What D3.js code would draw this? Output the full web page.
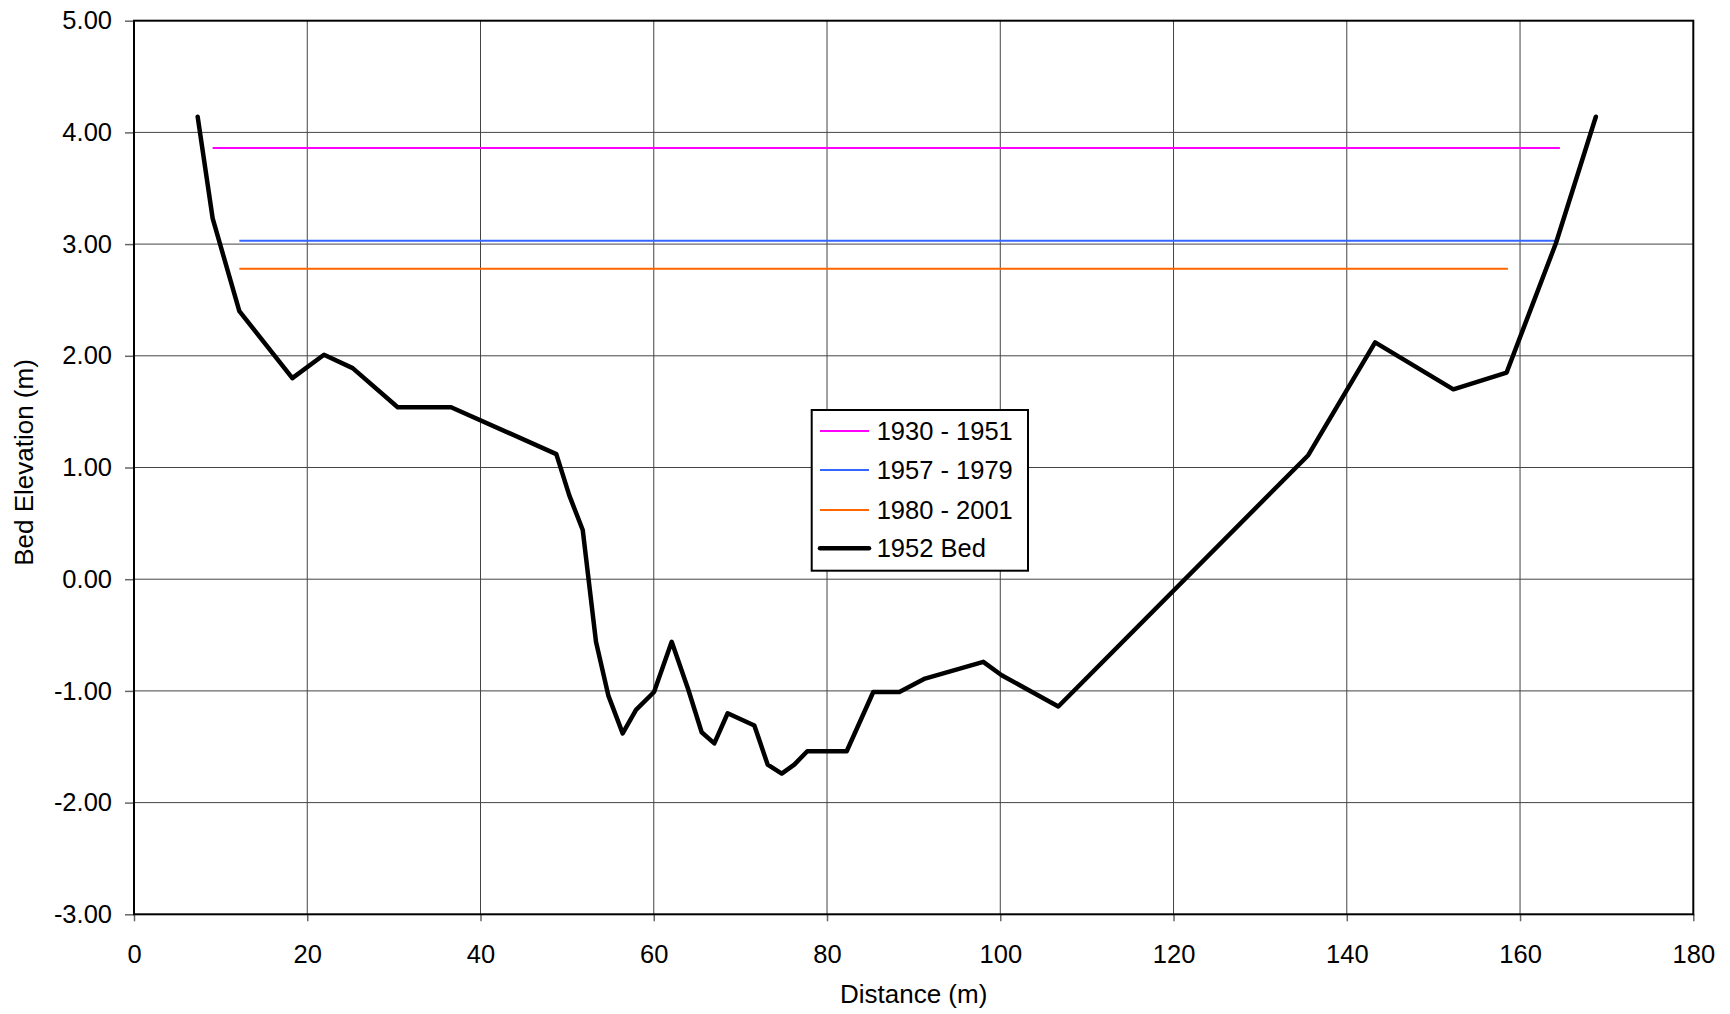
<!DOCTYPE html>
<html>
<head>
<meta charset="utf-8">
<script src="https://cdn.jsdelivr.net/npm/d3@7"></script>
<style>
  html, body { margin: 0; padding: 0; background: #fff; }
  svg { display: block; font-family: "Liberation Sans", Arial, sans-serif; }
</style>
</head>
<body>
<svg id="chart" width="1730" height="1014"></svg>
<script>
// ---- Data ----
const bedDistance = [7.35, 9.08, 12.16, 18.28, 21.93, 25.24, 30.44, 36.6, 48.75, 50.25, 51.8, 53.33, 54.75, 56.41, 57.95, 60.03, 62.07, 63.99, 65.53, 66.99, 68.53, 71.61, 73.15, 74.77, 76.22, 77.72, 82.27, 85.34, 88.35, 91.31, 98.04, 100.16, 106.7, 135.55, 143.27, 152.3, 158.45, 164.15, 168.75];
const bedElevation = [4.14, 3.23, 2.40, 1.80, 2.01, 1.89, 1.54, 1.54, 1.12, 0.75, 0.44, -0.56, -1.04, -1.38, -1.17, -1.01, -0.56, -0.99, -1.37, -1.47, -1.20, -1.31, -1.66, -1.74, -1.66, -1.54, -1.54, -1.01, -1.01, -0.89, -0.74, -0.86, -1.14, 1.11, 2.12, 1.70, 1.85, 3.01, 4.14];

const level1930Distance = [9.08, 164.6];
const level1930Elevation = [3.86, 3.86];
const level1957Distance = [12.16, 164.15];
const level1957Elevation = [3.03, 3.03];
const level1980Distance = [12.16, 158.6];
const level1980Elevation = [2.78, 2.78];

const seriesNames = ["1930 - 1951", "1957 - 1979", "1980 - 2001", "1952 Bed"];
const seriesColors = ["#ff00ff", "#3366ff", "#ff6600", "#000000"];

const xTicks = [0, 20, 40, 60, 80, 100, 120, 140, 160, 180];
const yTicks = [-3, -2, -1, 0, 1, 2, 3, 4, 5];
const xTitle = "Distance (m)";
const yTitle = "Bed Elevation (m)";

// ---- Layout ----
const W = 1730, H = 1014;
const margin = { left: 134, top: 20.7, right: 36.7, bottom: 99.7 };
const svg = d3.select("#chart");
const x = d3.scaleLinear().domain([0, 180]).range([margin.left, W - margin.right]);
const y = d3.scaleLinear().domain([-3, 5]).range([H - margin.bottom, margin.top]);

// Gridlines
const grid = svg.append("g");
grid.selectAll("line.v").data(xTicks.slice(1, -1)).join("line")
  .attr("x1", d => x(d)).attr("x2", d => x(d))
  .attr("y1", y(5)).attr("y2", y(-3))
  .attr("stroke", "#444").attr("stroke-width", 1);
grid.selectAll("line.h").data(yTicks.slice(1, -1)).join("line")
  .attr("x1", x(0)).attr("x2", x(180))
  .attr("y1", d => y(d)).attr("y2", d => y(d))
  .attr("stroke", "#444").attr("stroke-width", 1);

// Axes
const yAxis = svg.append("g").attr("transform", `translate(${x(0)},0)`)
  .call(d3.axisLeft(y).tickValues(yTicks).tickFormat(d => d.toFixed(2)).tickSize(9).tickPadding(13));
const xAxis = svg.append("g").attr("transform", `translate(0,${y(-3)})`)
  .call(d3.axisBottom(x).tickValues(xTicks).tickFormat(d => String(d)).tickSize(7).tickPadding(24));
[xAxis, yAxis].forEach(g => {
  g.select(".domain").remove();
  g.selectAll(".tick line").attr("stroke", "#666").attr("stroke-width", 1.5);
  g.selectAll(".tick text").attr("fill", "#000").style("font-size", "25.5px")
   .style("font-family", '"Liberation Sans", Arial, sans-serif');
});

// Plot frame
svg.append("rect")
  .attr("x", x(0)).attr("y", y(5))
  .attr("width", x(180) - x(0)).attr("height", y(-3) - y(5))
  .attr("fill", "none").attr("stroke", "#000").attr("stroke-width", 2);

// Lines
const line = d3.line().x(d => x(d[0])).y(d => y(d[1]));
const levels = [
  [level1930Distance, level1930Elevation],
  [level1957Distance, level1957Elevation],
  [level1980Distance, level1980Elevation]
];
levels.forEach((lv, i) => {
  svg.append("path")
    .datum(d3.zip(lv[0], lv[1]))
    .attr("d", line)
    .attr("fill", "none")
    .attr("stroke", seriesColors[i])
    .attr("stroke-width", 2);
});
svg.append("path")
  .datum(d3.zip(bedDistance, bedElevation))
  .attr("d", line)
  .attr("fill", "none")
  .attr("stroke", seriesColors[3])
  .attr("stroke-width", 4.5)
  .attr("stroke-linejoin", "round")
  .attr("stroke-linecap", "round");

// Axis titles
svg.append("text")
  .attr("x", (x(0) + x(180)) / 2).attr("y", 1003)
  .attr("text-anchor", "middle")
  .style("font-size", "26px")
  .text(xTitle);
svg.append("text")
  .attr("transform", `translate(33,${(y(5) + y(-3)) / 2 - 5}) rotate(-90)`)
  .attr("text-anchor", "middle")
  .style("font-size", "26px")
  .text(yTitle);

// Legend
const legend = svg.append("g");
legend.append("rect")
  .attr("x", 811.7).attr("y", 410).attr("width", 216.3).attr("height", 160.7)
  .attr("fill", "#fff").attr("stroke", "#000").attr("stroke-width", 2);
const rowY = [431, 470, 510, 548.3];
seriesNames.forEach((name, i) => {
  legend.append("line")
    .attr("x1", 820).attr("x2", 869)
    .attr("y1", rowY[i]).attr("y2", rowY[i])
    .attr("stroke", seriesColors[i])
    .attr("stroke-width", i === 3 ? 4.5 : 2)
    .attr("stroke-linecap", i === 3 ? "round" : "butt");
  legend.append("text")
    .attr("x", 876.7).attr("y", rowY[i])
    .attr("dy", "0.36em")
    .style("font-size", "25.5px")
    .text(name);
});
</script>
</body>
</html>
